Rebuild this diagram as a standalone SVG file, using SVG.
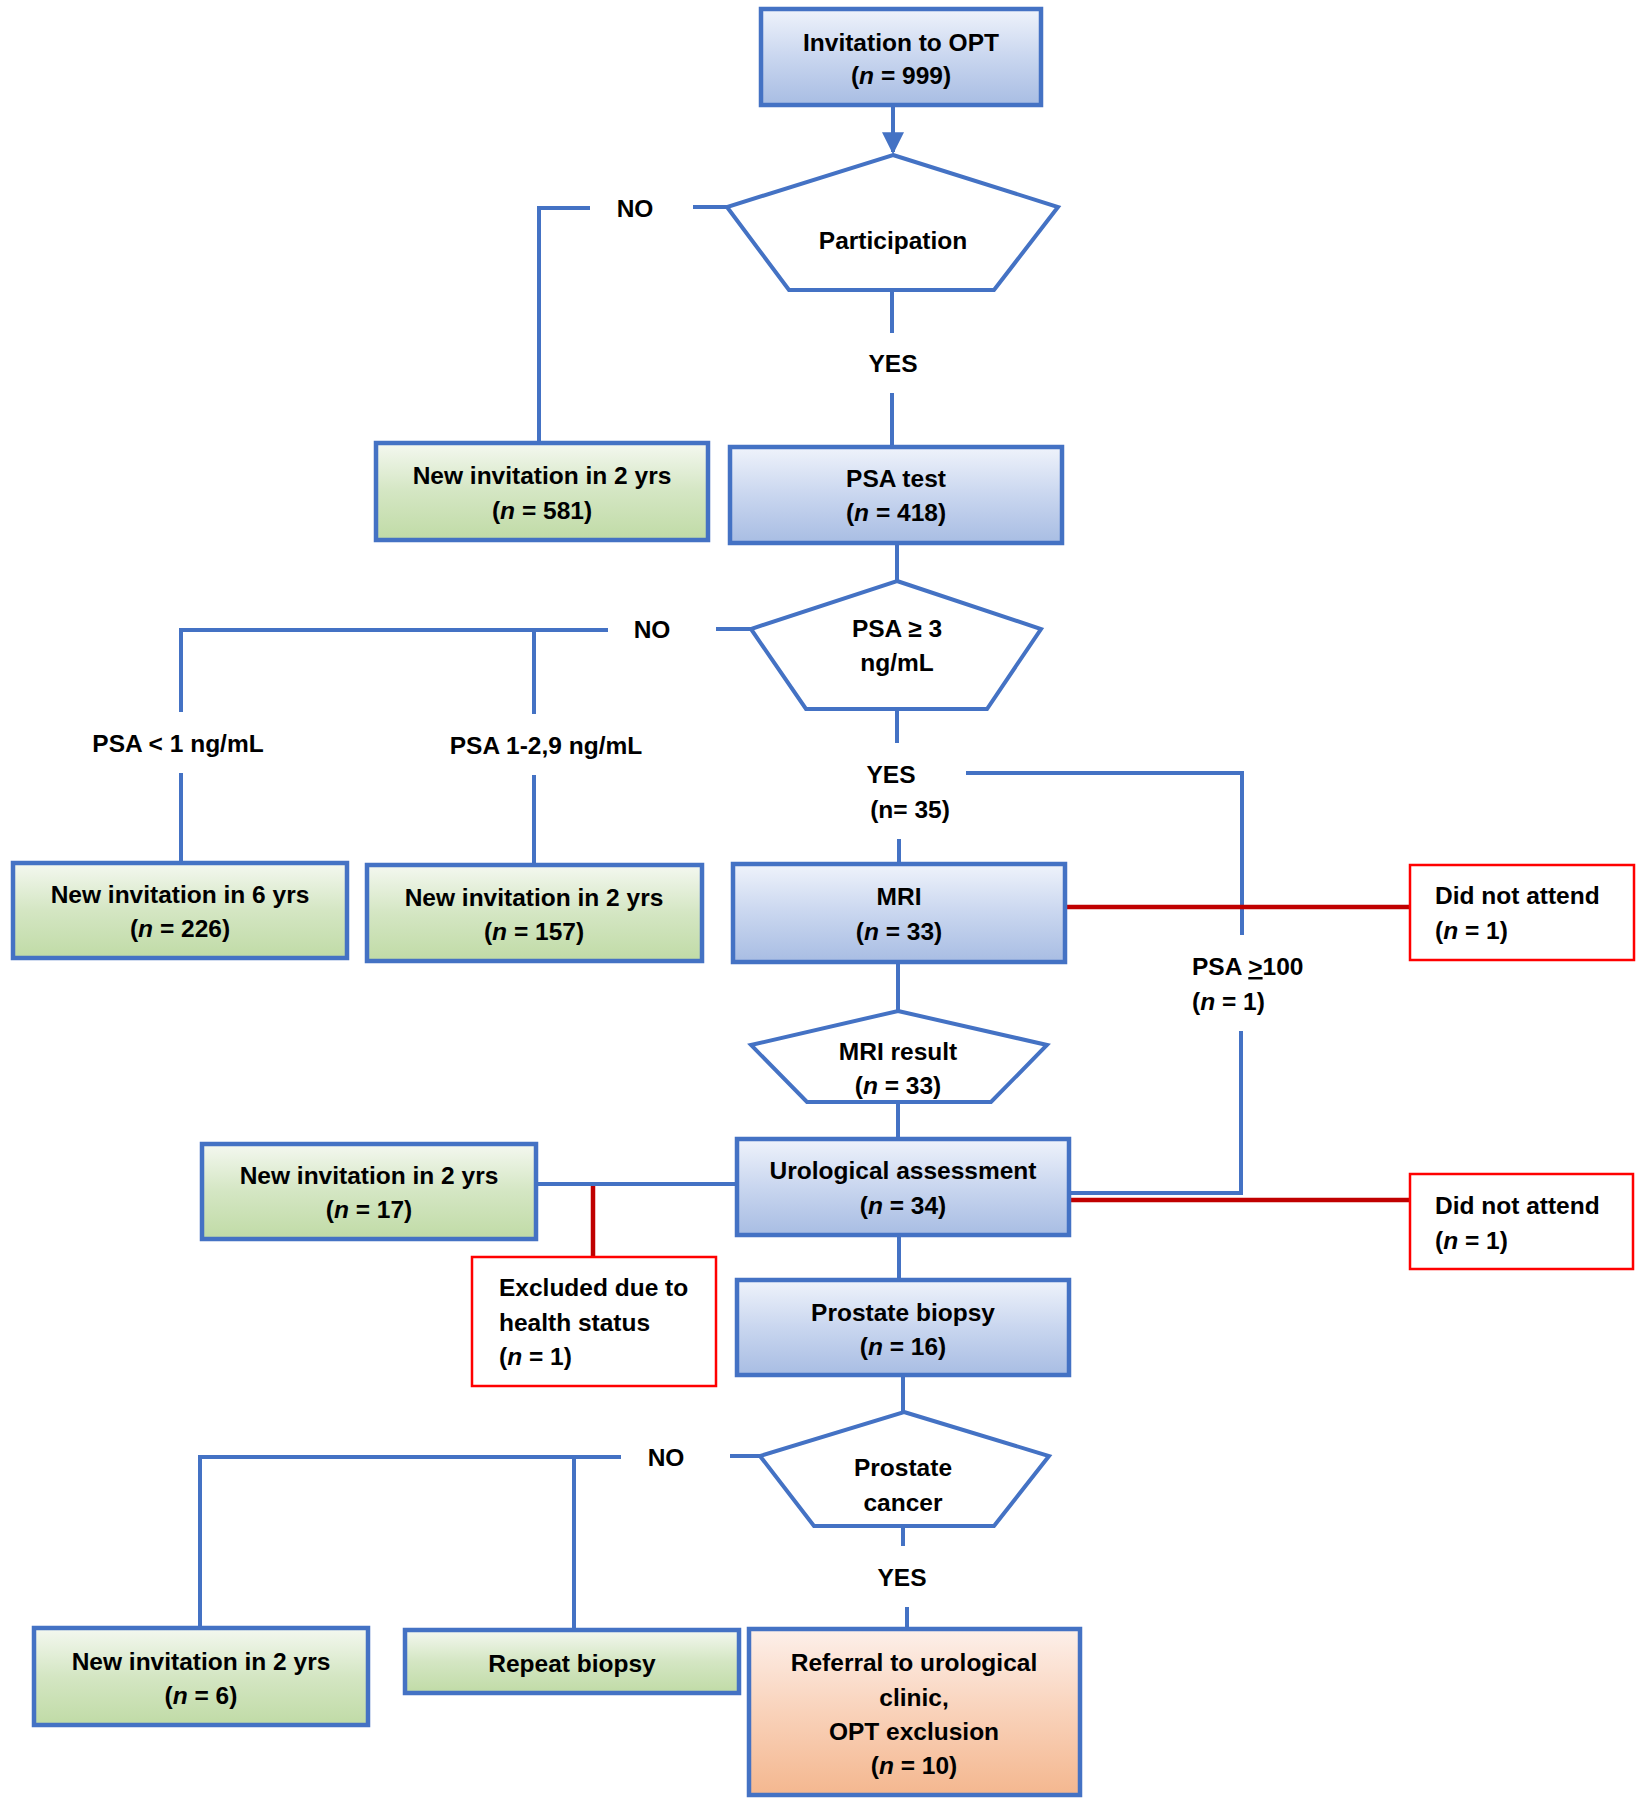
<svg xmlns="http://www.w3.org/2000/svg" width="1636" height="1800" viewBox="0 0 1636 1800">
<defs>
<linearGradient id="gBlue" x1="0" y1="0" x2="0" y2="1">
<stop offset="0" stop-color="#eff3fb"/><stop offset="0.5" stop-color="#c9d6ef"/><stop offset="1" stop-color="#a8bde3"/>
</linearGradient>
<linearGradient id="gGreen" x1="0" y1="0" x2="0" y2="1">
<stop offset="0" stop-color="#f4f8f0"/><stop offset="0.5" stop-color="#d4e6c3"/><stop offset="1" stop-color="#c0dba6"/>
</linearGradient>
<linearGradient id="gOrange" x1="0" y1="0" x2="0" y2="1">
<stop offset="0" stop-color="#fdf0ea"/><stop offset="0.5" stop-color="#f9d2ba"/><stop offset="1" stop-color="#f4b78f"/>
</linearGradient>
<marker id="arr" viewBox="0 0 10 10" refX="9" refY="5" markerWidth="5.5" markerHeight="5.5" markerUnits="strokeWidth" orient="auto">
<path d="M0,0 L10,5 L0,10 z" fill="#4472C4"/>
</marker>
<style>
text{font-family:"Liberation Sans",Arial,sans-serif;font-weight:bold;font-size:24.5px;fill:#000}
.c{text-anchor:middle}
.i{font-style:italic}
.box{stroke:#4472C4;stroke-width:4.5}
.blue{fill:url(#gBlue)}
.green{fill:url(#gGreen)}
.orange{fill:url(#gOrange)}
.pent{fill:#fff;stroke:#4472C4;stroke-width:4;stroke-linejoin:miter}
.red{fill:#fff;stroke:#ff0000;stroke-width:2.5}
.ln{fill:none;stroke:#4472C4;stroke-width:4}
.rl{fill:none;stroke:#c00000;stroke-width:4.5}
</style>
</defs>
<rect width="1636" height="1800" fill="#fff"/>

<g id="connectors">
<line class="ln" x1="893" y1="105" x2="893" y2="152" marker-end="url(#arr)"/>
<polyline class="ln" points="727,207 693,207"/>
<polyline class="ln" points="590,208 539,208 539,443"/>
<line class="ln" x1="892" y1="290" x2="892" y2="333"/>
<line class="ln" x1="892" y1="393" x2="892" y2="447"/>
<line class="ln" x1="897" y1="543" x2="897" y2="581"/>
<polyline class="ln" points="751,629 716,629"/>
<polyline class="ln" points="608,630 181,630 181,712"/>
<line class="ln" x1="181" y1="773" x2="181" y2="863"/>
<line class="ln" x1="534" y1="630" x2="534" y2="714"/>
<line class="ln" x1="534" y1="775" x2="534" y2="865"/>
<line class="ln" x1="897" y1="709" x2="897" y2="743"/>
<line class="ln" x1="899" y1="839" x2="899" y2="864"/>
<polyline class="ln" points="966,773 1242,773 1242,935"/>
<polyline class="ln" points="1241,1031 1241,1193 1069,1193"/>
<line class="rl" x1="1065" y1="907" x2="1410" y2="907"/>
<line class="ln" x1="898" y1="962" x2="898" y2="1011"/>
<line class="ln" x1="898" y1="1102" x2="898" y2="1139"/>
<line class="ln" x1="737" y1="1184" x2="536" y2="1184"/>
<line class="rl" x1="593" y1="1186" x2="593" y2="1257"/>
<line class="rl" x1="1069" y1="1200" x2="1410" y2="1200"/>
<line class="ln" x1="899" y1="1235" x2="899" y2="1280"/>
<line class="ln" x1="903" y1="1375" x2="903" y2="1412"/>
<polyline class="ln" points="760,1456 730,1456"/>
<polyline class="ln" points="621,1457 200,1457 200,1628"/>
<line class="ln" x1="574" y1="1457" x2="574" y2="1630"/>
<line class="ln" x1="903" y1="1526" x2="903" y2="1546"/>
<line class="ln" x1="907" y1="1607" x2="907" y2="1629"/>
<text class="c" x="635" y="217">NO</text>
<text class="c" x="893" y="372">YES</text>
<text class="c" x="652" y="638">NO</text>
<text class="c" x="178" y="752">PSA &lt; 1 ng/mL</text>
<text class="c" x="546" y="754">PSA 1-2,9 ng/mL</text>
<text class="c" x="891" y="783">YES</text>
<text class="c" x="910" y="818">(n= 35)</text>
<text x="1192" y="975">PSA <tspan text-decoration="underline">&gt;</tspan>100</text>
<text x="1192" y="1010">(<tspan class="i">n</tspan> = 1)</text>
<text class="c" x="666" y="1466">NO</text>
<text class="c" x="902" y="1586">YES</text>
</g>

<g id="n_invite">
<rect class="box blue" x="761" y="9" width="280" height="96"/>
<text class="c" x="901" y="51">Invitation to OPT</text>
<text class="c" x="901" y="84">(<tspan class="i">n</tspan> = 999)</text>
</g>
<g id="n_participation">
<polygon class="pent" points="893,155 1058,207 994,290 789,290 727,207"/>
<text class="c" x="893" y="249">Participation</text>
</g>
<g id="n_inv581">
<rect class="box green" x="376" y="443" width="332" height="97"/>
<text class="c" x="542" y="484">New invitation in 2 yrs</text>
<text class="c" x="542" y="519">(<tspan class="i">n</tspan> = 581)</text>
</g>
<g id="n_psatest">
<rect class="box blue" x="730" y="447" width="332" height="96"/>
<text class="c" x="896" y="487">PSA test</text>
<text class="c" x="896" y="521">(<tspan class="i">n</tspan> = 418)</text>
</g>
<g id="n_psa3">
<polygon class="pent" points="897,581 1041,629 987,709 806,709 751,629"/>
<text class="c" x="897" y="637">PSA ≥ 3</text>
<text class="c" x="897" y="671">ng/mL</text>
</g>
<g id="n_inv226">
<rect class="box green" x="13" y="863" width="334" height="95"/>
<text class="c" x="180" y="903">New invitation in 6 yrs</text>
<text class="c" x="180" y="937">(<tspan class="i">n</tspan> = 226)</text>
</g>
<g id="n_inv157">
<rect class="box green" x="367" y="865" width="335" height="96"/>
<text class="c" x="534" y="906">New invitation in 2 yrs</text>
<text class="c" x="534" y="940">(<tspan class="i">n</tspan> = 157)</text>
</g>
<g id="n_mri">
<rect class="box blue" x="733" y="864" width="332" height="98"/>
<text class="c" x="899" y="905">MRI</text>
<text class="c" x="899" y="940">(<tspan class="i">n</tspan> = 33)</text>
</g>
<g id="n_dna1">
<rect class="red" x="1410" y="865" width="224" height="95"/>
<text x="1435" y="904">Did not attend</text>
<text x="1435" y="939">(<tspan class="i">n</tspan> = 1)</text>
</g>
<g id="n_mriresult">
<polygon class="pent" points="898,1011 1047,1045 991,1102 807,1102 751,1045"/>
<text class="c" x="898" y="1060">MRI result</text>
<text class="c" x="898" y="1094">(<tspan class="i">n</tspan> = 33)</text>
</g>
<g id="n_uro">
<rect class="box blue" x="737" y="1139" width="332" height="96"/>
<text class="c" x="903" y="1179">Urological assessment</text>
<text class="c" x="903" y="1214">(<tspan class="i">n</tspan> = 34)</text>
</g>
<g id="n_inv17">
<rect class="box green" x="202" y="1144" width="334" height="95"/>
<text class="c" x="369" y="1184">New invitation in 2 yrs</text>
<text class="c" x="369" y="1218">(<tspan class="i">n</tspan> = 17)</text>
</g>
<g id="n_excluded">
<rect class="red" x="472" y="1257" width="244" height="129"/>
<text x="499" y="1296">Excluded due to</text>
<text x="499" y="1331">health status</text>
<text x="499" y="1365">(<tspan class="i">n</tspan> = 1)</text>
</g>
<g id="n_dna2">
<rect class="red" x="1410" y="1174" width="223" height="95"/>
<text x="1435" y="1214">Did not attend</text>
<text x="1435" y="1249">(<tspan class="i">n</tspan> = 1)</text>
</g>
<g id="n_biopsy">
<rect class="box blue" x="737" y="1280" width="332" height="95"/>
<text class="c" x="903" y="1321">Prostate biopsy</text>
<text class="c" x="903" y="1355">(<tspan class="i">n</tspan> = 16)</text>
</g>
<g id="n_cancer">
<polygon class="pent" points="904,1412 1049,1456 994,1526 814,1526 760,1456"/>
<text class="c" x="903" y="1476">Prostate</text>
<text class="c" x="903" y="1511">cancer</text>
</g>
<g id="n_inv6">
<rect class="box green" x="34" y="1628" width="334" height="97"/>
<text class="c" x="201" y="1670">New invitation in 2 yrs</text>
<text class="c" x="201" y="1704">(<tspan class="i">n</tspan> = 6)</text>
</g>
<g id="n_repeat">
<rect class="box green" x="405" y="1630" width="334" height="63"/>
<text class="c" x="572" y="1672">Repeat biopsy</text>
</g>
<g id="n_referral">
<rect class="box orange" x="749" y="1629" width="331" height="166"/>
<text class="c" x="914" y="1671">Referral to urological</text>
<text class="c" x="914" y="1706">clinic,</text>
<text class="c" x="914" y="1740">OPT exclusion</text>
<text class="c" x="914" y="1774">(<tspan class="i">n</tspan> = 10)</text>
</g>
</svg>
